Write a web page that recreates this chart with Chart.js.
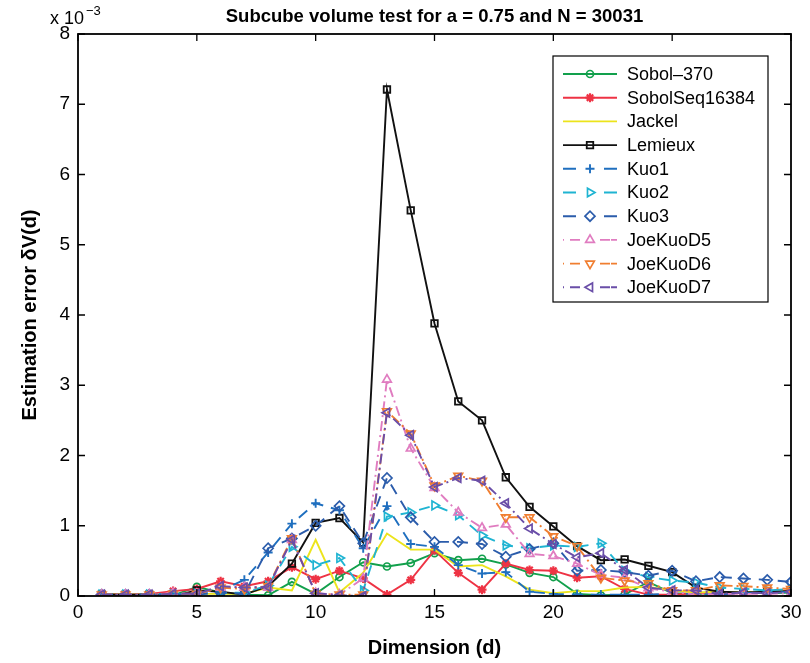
<!DOCTYPE html>
<html><head><meta charset="utf-8">
<script src="https://cdn.jsdelivr.net/npm/chart.js@4/dist/chart.umd.min.js"></script>
<style>html,body{margin:0;padding:0;background:#fff}#wrap{width:810px;height:663px;position:relative}</style>
</head><body><div id="wrap"><canvas id="c" width="810" height="663"></canvas></div>
<script>
// Dimension d = 1..30 ; values in units of 1e-3
const dims = [1,2,3,4,5,6,7,8,9,10,11,12,13,14,15,16,17,18,19,20,21,22,23,24,25,26,27,28,29,30];
const sobol370     = [0.03,0.02,0.02,0.01,0.13,0.05,0.02,0.01,0.20,0.03,0.27,0.48,0.42,0.47,0.61,0.51,0.53,0.45,0.33,0.27,0.03,0.01,0.02,0.20,0.04,0.03,0.03,0.05,0.04,0.05];
const sobolSeq16384= [0.03,0.02,0.03,0.07,0.10,0.21,0.14,0.21,0.41,0.24,0.36,0.25,0.02,0.23,0.65,0.33,0.09,0.46,0.37,0.36,0.26,0.28,0.10,0.02,0.02,0.04,0.05,0.04,0.06,0.08];
const jackel       = [0.02,0.02,0.02,0.02,0.03,0.03,0.03,0.12,0.08,0.80,0.05,0.33,0.89,0.66,0.66,0.42,0.44,0.28,0.09,0.04,0.07,0.07,0.12,0.13,0.08,0.05,0.06,0.05,0.07,0.06];
const lemieux      = [0.02,0.02,0.02,0.00,0.08,0.06,0.02,0.14,0.46,1.04,1.11,0.76,7.21,5.49,3.88,2.77,2.50,1.69,1.27,0.99,0.71,0.51,0.52,0.43,0.34,0.12,0.06,0.05,0.06,0.07];
const kuo1         = [0.02,0.02,0.02,0.03,0.02,0.08,0.23,0.62,1.03,1.32,1.22,0.68,1.28,0.74,0.70,0.44,0.32,0.34,0.06,0.03,0.02,0.02,0.02,0.02,0.03,0.03,0.02,0.04,0.05,0.06];
const kuo2         = [0.02,0.02,0.02,0.02,0.03,0.04,0.05,0.15,0.70,0.44,0.54,0.08,1.13,1.19,1.29,1.15,0.86,0.72,0.68,0.72,0.70,0.75,0.36,0.27,0.22,0.19,0.12,0.10,0.08,0.10];
const kuo3         = [0.02,0.02,0.02,0.02,0.02,0.05,0.03,0.68,0.82,1.00,1.28,0.75,1.68,1.12,0.77,0.77,0.74,0.56,0.67,0.75,0.36,0.37,0.34,0.29,0.36,0.21,0.27,0.25,0.23,0.20];
const joeKuoD5     = [0.02,0.02,0.02,0.04,0.03,0.12,0.12,0.12,0.80,0.04,0.02,0.25,3.08,2.10,1.54,1.19,0.97,1.02,0.60,0.57,0.46,0.30,0.26,0.11,0.06,0.02,0.03,0.03,0.03,0.04];
const joeKuoD6     = [0.02,0.02,0.02,0.03,0.03,0.12,0.10,0.14,0.82,0.03,0.02,0.02,2.63,2.31,1.57,1.71,1.64,1.12,1.12,0.85,0.71,0.26,0.22,0.18,0.08,0.08,0.15,0.14,0.12,0.10];
const joeKuoD7     = [0.02,0.02,0.02,0.03,0.03,0.14,0.12,0.13,0.80,0.04,0.01,0.00,2.61,2.29,1.55,1.68,1.64,1.32,0.96,0.74,0.55,0.61,0.37,0.12,0.08,0.08,0.03,0.05,0.04,0.06];
const seriesNames = ['Sobol\u2013370','SobolSeq16384','Jackel','Lemieux','Kuo1','Kuo2','Kuo3','JoeKuoD5','JoeKuoD6','JoeKuoD7'];
const xTickValues = [0,5,10,15,20,25,30];
const yTickValues = [0,1,2,3,4,5,6,7,8];
const titleText = 'Subcube volume test for a = 0.75 and N = 30031';
const xTitle = 'Dimension (d)';
const yTitle = 'Estimation error \u03b4V(d)';

const allValues = [sobol370,sobolSeq16384,jackel,lemieux,kuo1,kuo2,kuo3,joeKuoD5,joeKuoD6,joeKuoD7];
const styles = [
  {color:'#12a04c', dash:[], ps:'circle', r:3.5, rot:0, bw:1.7},
  {color:'#ee3344', dash:[], ps:'star', r:4.5, rot:0, bw:2.2},
  {color:'#ece41c', dash:[], ps:false, r:0, rot:0, bw:1.7},
  {color:'#111111', dash:[], ps:'rect', r:4.6, rot:0, bw:1.8},
  {color:'#1f6fbf', dash:[11,8], ps:'cross', r:4.5, rot:0, bw:1.9},
  {color:'#1fb4d2', dash:[11,8], ps:'triangle', r:5, rot:90, bw:1.7},
  {color:'#2b5cab', dash:[11,8], ps:'rectRot', r:5, rot:0, bw:1.7},
  {color:'#e07cc0', dash:[10,4,2,4], ps:'triangle', r:5, rot:0, bw:1.7},
  {color:'#f07e30', dash:[10,4,2,4], ps:'triangle', r:5, rot:180, bw:1.7},
  {color:'#6a4ea8', dash:[10,4,2,4], ps:'triangle', r:5, rot:-90, bw:1.7}
];
const FONT = 'Liberation Sans, Arial, Helvetica, sans-serif';

const datasets = allValues.map((vals,i)=>({
  label: seriesNames[i],
  data: dims.map((d,k)=>({x:d, y:vals[k]})),
  borderColor: styles[i].color,
  backgroundColor: 'rgba(0,0,0,0)',
  borderWidth: 1.9,
  borderDash: styles[i].dash,
  pointStyle: styles[i].ps,
  pointRadius: styles[i].r,
  pointRotation: styles[i].rot,
  pointBorderColor: styles[i].color,
  pointBackgroundColor: 'rgba(0,0,0,0)',
  pointBorderWidth: styles[i].bw,
  tension: 0,
  order: 20 - i
}));

function drawMarker(ctx, st, x, y){
  if(!st.ps) return;
  ctx.save();
  ctx.strokeStyle = st.color; ctx.fillStyle='rgba(0,0,0,0)'; ctx.lineWidth=st.bw; ctx.setLineDash([]);
  Chart.helpers.drawPoint(ctx, {pointStyle: st.ps, radius: st.r, rotation: st.rot, borderWidth:st.bw}, x, y);
  ctx.restore();
}

const framePlugin = {
  id:'frame',
  afterDatasetsDraw(chart){
    const ctx = chart.ctx, a = chart.chartArea, xs = chart.scales.x, ys = chart.scales.y;
    ctx.save();
    ctx.strokeStyle='#000'; ctx.lineWidth=1.8; ctx.setLineDash([]);
    ctx.strokeRect(a.left, a.top, a.right-a.left, a.bottom-a.top);
    const L=7;
    ctx.lineWidth=1.3;
    xs.ticks.forEach(t=>{const px=xs.getPixelForValue(t.value);
      ctx.beginPath(); ctx.moveTo(px,a.bottom); ctx.lineTo(px,a.bottom-L); ctx.moveTo(px,a.top); ctx.lineTo(px,a.top+L); ctx.stroke();});
    ys.ticks.forEach(t=>{const py=ys.getPixelForValue(t.value);
      ctx.beginPath(); ctx.moveTo(a.left,py); ctx.lineTo(a.left+L,py); ctx.moveTo(a.right,py); ctx.lineTo(a.right-L,py); ctx.stroke();});
    ctx.restore();
  },
  afterDraw(chart){
    const ctx = chart.ctx, a = chart.chartArea;
    ctx.save();
    ctx.fillStyle='#000'; ctx.textAlign='center'; ctx.textBaseline='middle';
    ctx.font = 'bold 18.5px ' + FONT;
    ctx.fillText(titleText, (a.left+a.right)/2, 17);
    ctx.textAlign='left'; ctx.font='18px '+FONT;
    ctx.fillText('x 10', 50, 19);
    ctx.font='13px '+FONT;
    ctx.fillText('\u22123', 86, 11);
    const bx=553, by=56, bw=215, bh=246;
    ctx.fillStyle='#fff'; ctx.fillRect(bx,by,bw,bh);
    ctx.strokeStyle='#000'; ctx.lineWidth=1.2; ctx.strokeRect(bx,by,bw,bh);
    const legDash = [[],[],[],[],[13,28],[13,28],[13,28],[1,6,10,20,10],[1,6,10,20,10],[1,6,10,20,10]];
    seriesNames.forEach((n,i)=>{
      const y = 74 + i*23.7;
      const st = styles[i];
      ctx.strokeStyle = st.color; ctx.lineWidth = 1.9; ctx.setLineDash(legDash[i]);
      ctx.beginPath(); ctx.moveTo(563,y); ctx.lineTo(617,y); ctx.stroke();
      ctx.setLineDash([]);
      drawMarker(ctx, st, 590, y);
      ctx.fillStyle='#000'; ctx.font='18px '+FONT; ctx.textAlign='left'; ctx.textBaseline='middle';
      ctx.fillText(n, 627, y+1);
    });
    ctx.restore();
  }
};

new Chart(document.getElementById('c'), {
  type:'line',
  data:{datasets},
  options:{
    responsive:false, animation:false, devicePixelRatio:1,
    layout:{padding:{top:34, right:19, bottom:0, left:0}},
    plugins:{legend:{display:false}, title:{display:false}, tooltip:{enabled:false}},
    scales:{
      x:{type:'linear', min:0, max:30,
        afterBuildTicks(s){ s.ticks = xTickValues.map(v=>({value:v})); },
        afterFit(s){ s.height = 67; },
        ticks:{color:'#000', font:{family:FONT, size:19}, padding:5, maxRotation:0},
        grid:{display:false, drawTicks:false}, border:{display:false},
        title:{display:true, text:xTitle, color:'#000', font:{family:FONT, size:20, weight:'bold'}, padding:{top:0,bottom:3}}
      },
      y:{type:'linear', min:0, max:8,
        afterBuildTicks(s){ s.ticks = yTickValues.map(v=>({value:v})); },
        afterFit(s){ s.width = 78; },
        ticks:{color:'#000', font:{family:FONT, size:19}, padding:8},
        grid:{display:false, drawTicks:false}, border:{display:false},
        title:{display:true, text:yTitle, color:'#000', font:{family:FONT, size:20, weight:'bold'}, padding:{top:18,bottom:0}}
      }
    }
  },
  plugins:[framePlugin]
});
</script></body></html>
